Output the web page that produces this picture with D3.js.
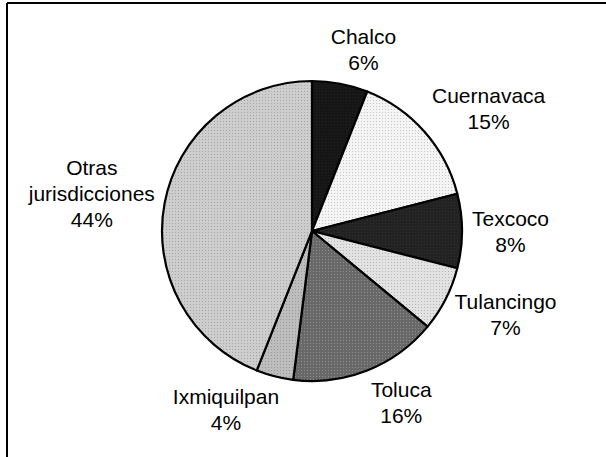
<!DOCTYPE html>
<html>
<head>
<meta charset="utf-8">
<script src="https://cdn.jsdelivr.net/npm/d3@7"></script>
<style>
  body { margin: 0; background: white; }
  text { font-family: "Liberation Sans", Arial, sans-serif; }
</style>
</head>
<body>
<svg id="chart" width="606" height="457"></svg>
<script>
// data
var labels = [["Chalco"], ["Cuernavaca"], ["Texcoco"], ["Tulancingo"], ["Toluca"], ["Ixmiquilpan"], ["Otras", "jurisdicciones"]]
var shares = [6, 15, 8, 7, 16, 4, 44]
var fills = ["#161616", "#f4f4f4", "#222222", "#e2e2e2", "#686868", "#bdbdbd", "#cdcdcd"]

var svg = d3.select("#chart")
var width = 606, height = 457
var cx = 312, cy = 231, radius = 150
var fontSize = 21, lineH = 26

// frame (only top and left edges visible in the crop)
svg.append("line").attr("x1", 7).attr("y1", 3).attr("x2", width).attr("y2", 3)
   .attr("stroke", "black").attr("stroke-width", 2)
svg.append("line").attr("x1", 7).attr("y1", 3).attr("x2", 7).attr("y2", height)
   .attr("stroke", "black").attr("stroke-width", 2)

// stipple patterns, one per slice
var defs = svg.append("defs")
fills.forEach(function(c, i) {
  var p = defs.append("pattern").attr("id", "pat" + i)
    .attr("width", 3).attr("height", 3).attr("patternUnits", "userSpaceOnUse")
  p.append("rect").attr("width", 3).attr("height", 3).attr("fill", c)
  var dot = d3.color(c)
  dot = (dot.r > 128) ? dot.darker(0.6) : dot.brighter(0.9)
  p.append("rect").attr("x", 1).attr("y", 1).attr("width", 1).attr("height", 1).attr("fill", dot.formatHex())
})

var pie = d3.pie().sort(null).value(function(d) { return d })
var arcs = pie(shares)

var arc = d3.arc().innerRadius(0).outerRadius(radius)

var g = svg.append("g").attr("transform", "translate(" + cx + "," + cy + ")")

g.selectAll("path").data(arcs).enter()
  .append("path")
  .attr("d", arc)
  .attr("fill", function(d, i) { return "url(#pat" + i + ")" })
  .attr("stroke", "black")
  .attr("stroke-width", 2.2)
  .attr("stroke-linejoin", "round")

// labels: text box sits just outside the rim, pushed sideways off the mid angle
var gap = 10
var labelGroups = g.selectAll("g.lbl").data(arcs).enter()
  .append("g").attr("class", "lbl")

labelGroups.each(function(d, i) {
  var lines = labels[i].concat([shares[i] + "%"])
  var grp = d3.select(this)
  var t = grp.append("text")
    .attr("text-anchor", "middle")
    .attr("font-size", fontSize + "px")
    .attr("fill", "black")
  lines.forEach(function(s, k) {
    t.append("tspan").attr("x", 0).attr("y", k * lineH).text(s)
  })
  var bb = t.node().getBBox()
  var a = (d.startAngle + d.endAngle) / 2
  var sx = Math.sin(a), sy = -Math.cos(a)
  var fx = Math.sign(sx) * Math.min(1, Math.abs(sx) * 3.5)
  var ax = (radius + gap) * sx + fx * bb.width / 2
  var ay = (radius + gap) * sy + sy * bb.height / 2
  var ox = ax - (bb.x + bb.width / 2)
  var oy = ay - (bb.y + bb.height / 2)
  grp.attr("transform", "translate(" + ox + "," + oy + ")")
})
</script>
</body>
</html>
